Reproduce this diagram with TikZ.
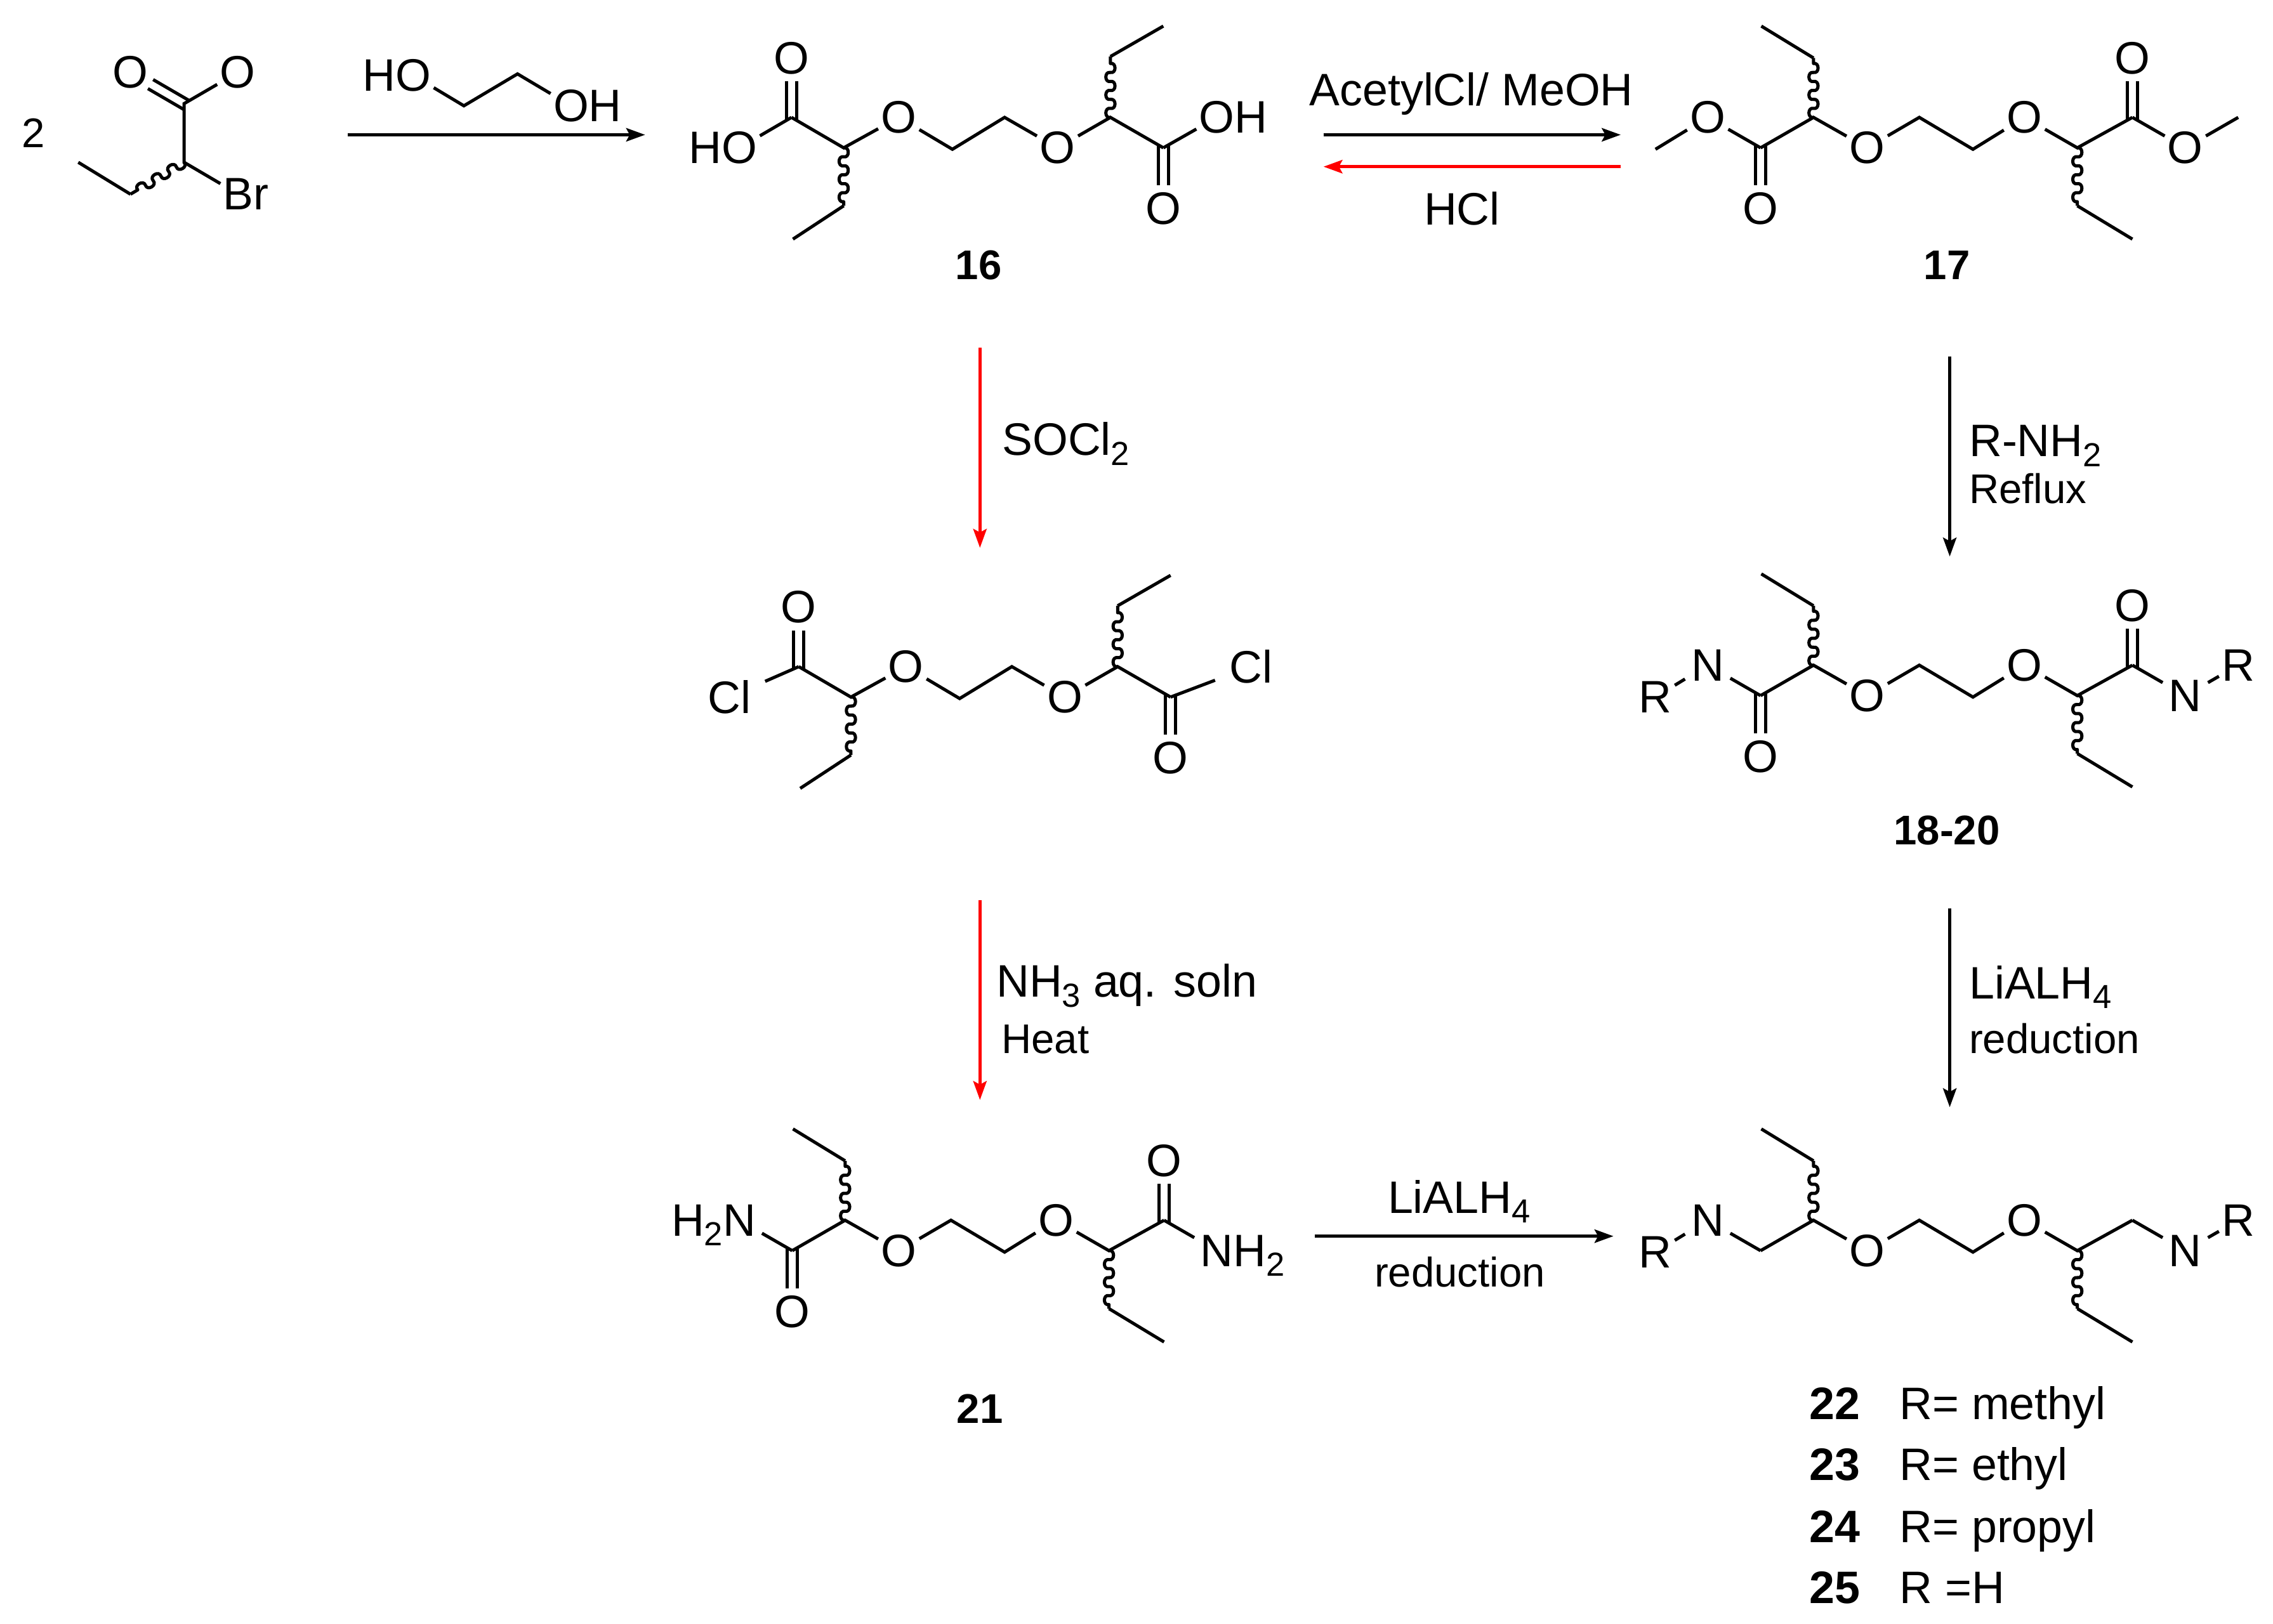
\documentclass[tikz,border=0pt]{standalone}
\usepackage{fontspec}
\setmainfont{Liberation Sans}
\usetikzlibrary{arrows.meta,calc,decorations}
\newcommand\sbb[1]{\smash{\raisebox{-0.22em}{\fontsize{11.5}{12}\selectfont #1}}}
\newcommand\bigf{\fontsize{15.7}{18}\selectfont}
\newcommand\smf{\fontsize{14.3}{17}\selectfont}
% rounded wave, each half a near half-circle
\pgfdeclaredecoration{wig}{up}{
  \state{up}[switch if less than=2.6pt to final,width=3.1pt,next state=down]{
    \pgfpathlineto{\pgfpointorigin}
    \pgfpathcurveto{\pgfqpoint{-0.5pt}{2.1pt}}{\pgfqpoint{3.6pt}{2.1pt}}{\pgfqpoint{3.1pt}{0pt}}
  }
  \state{down}[switch if less than=2.6pt to final,width=3.1pt,next state=up]{
    \pgfpathlineto{\pgfpointorigin}
    \pgfpathcurveto{\pgfqpoint{-0.5pt}{-2.1pt}}{\pgfqpoint{3.6pt}{-2.1pt}}{\pgfqpoint{3.1pt}{0pt}}
  }
  \state{final}{\pgfpathlineto{\pgfpointdecoratedpathlast}}
}
\tikzset{
  bond/.style={line width=1.1pt,line cap=butt,line join=miter},
  wavy/.style={line width=1.1pt,line join=round,decorate,decoration={wig}},
  atom/.style={inner xsep=1pt,inner ysep=0pt,outer sep=0pt,font=\bigf},
  natom/.style={inner xsep=2.15pt,inner ysep=0pt,outer sep=0pt,font=\bigf},
  clatom/.style={inner xsep=5pt,inner ysep=0pt,outer sep=0pt,font=\bigf},
  rx/.style={line width=1.1pt,-{Stealth[length=6.5pt,width=4.6pt,inset=1.2pt]}},
  rxred/.style={rx,color=red},
  lab/.style={inner sep=0pt,anchor=base,font=\bigf},
  labw/.style={inner sep=0pt,anchor=base west,font=\bigf},
  labs/.style={inner sep=0pt,anchor=base,font=\smf},
  labsw/.style={inner sep=0pt,anchor=base west,font=\smf},
  cpd/.style={inner sep=0pt,anchor=base,font=\smf\bfseries},
  cpdb/.style={inner sep=0pt,anchor=base west,font=\bigf\bfseries},
}
% double bond: from carbon #1 towards oxygen node #2
\newcommand\dbond[2]{%
  \draw[bond,shorten >=8pt,shorten <=-0.9pt] ($(#1.center)!1.8pt!90:(#2.center)$) -- ($(#2.center)!1.8pt!-90:(#1.center)$);
  \draw[bond,shorten >=8pt,shorten <=-0.9pt] ($(#1.center)!1.8pt!-90:(#2.center)$) -- ($(#2.center)!1.8pt!90:(#1.center)$);}
% core with first carbonyl up, as in 16
\newcommand\coreA[1]{%
  \coordinate (#1c1) at (546,81); \coordinate (#1h1) at (582,102);
  \node[atom] (#1O1) at (620,81) {O};
  \coordinate (#1e1) at (657,103); \coordinate (#1e2) at (693,81);
  \node[atom] (#1O2) at (729.5,102) {O};
  \coordinate (#1h2) at (766,81); \coordinate (#1c2) at (802.5,102);
  \coordinate (#1t1) at (582,142); \coordinate (#1m1) at (547,165);
  \coordinate (#1t2) at (766,39); \coordinate (#1m2) at (802.5,18);
  \node[atom] (#1Ot) at (546,40) {O};
  \node[atom] (#1Ob) at (802.5,144) {O};
  \draw[bond] (#1c1) -- (#1h1) -- (#1O1);
  \draw[bond] (#1O1) -- (#1e1) -- (#1e2) -- (#1O2);
  \draw[bond] (#1O2) -- (#1h2) -- (#1c2);
  \draw[wavy] (#1h1) -- (#1t1);
  \draw[wavy] (#1h2) -- (#1t2);
  \draw[bond] (#1t1) -- (#1m1);
  \draw[bond] (#1t2) -- (#1m2);
  \dbond{#1c1}{#1Ot}
  \dbond{#1c2}{#1Ob}}
% core with first carbonyl down, as in 17
\newcommand\coreB[1]{%
  \coordinate (#1c1) at (1214.5,102); \coordinate (#1h1) at (1251,81);
  \node[atom] (#1O1) at (1288,102) {O};
  \coordinate (#1e1) at (1324,81); \coordinate (#1e2) at (1361,103);
  \node[atom] (#1O2) at (1396.5,81) {O};
  \coordinate (#1h2) at (1433,102); \coordinate (#1c2) at (1471,81);
  \coordinate (#1t1) at (1251,40); \coordinate (#1m1) at (1215,18);
  \coordinate (#1t2) at (1433,142); \coordinate (#1m2) at (1471,165);
  \draw[bond] (#1c1) -- (#1h1) -- (#1O1);
  \draw[bond] (#1O1) -- (#1e1) -- (#1e2) -- (#1O2);
  \draw[bond] (#1O2) -- (#1h2) -- (#1c2);
  \draw[wavy] (#1h1) -- (#1t1);
  \draw[wavy] (#1h2) -- (#1t2);
  \draw[bond] (#1t1) -- (#1m1);
  \draw[bond] (#1t2) -- (#1m2);}
\newcommand\carbonylsB[1]{%
  \node[atom] (#1Ob) at (1214.5,144) {O};
  \node[atom] (#1Ot) at (1471,40) {O};
  \dbond{#1c1}{#1Ob}
  \dbond{#1c2}{#1Ot}}
\begin{document}
\begin{tikzpicture}[x=0.5pt,y=-0.5pt]
\useasboundingbox (0,0) rectangle (1568,1120.6);

% starting bromide
\node[inner sep=0pt,font=\smf] (two) at (23,92) {2};
\coordinate (bc) at (127,71.5); \coordinate (bh) at (127,112);
\coordinate (bm) at (90,134); \coordinate (be) at (54,112);
\node[atom] (bO1) at (90,50) {O};
\node[atom] (bO2) at (164,50) {O};
\node[atom] (bBr) at (164.5,134) {B\rlap{r}};
\draw[bond] (bO2) -- (bc) -- (bh) -- (bBr);
\dbond{bc}{bO1}
\draw[wavy] (bh) -- (bm);
\draw[bond] (bm) -- (be);

% ethylene glycol
\node[atom] (gO1) at (285,52) {\llap{H}O};
\node[atom] (gO2) at (394,73) {O\rlap{H}};
\coordinate (ge1) at (320,73); \coordinate (ge2) at (357,51);
\draw[bond] (gO1) -- (ge1) -- (ge2) -- (gO2);

% 16
\begin{scope}
\coreA{p-}
\node[atom] (p-L) at (510,102) {\llap{H}O};
\node[atom] (p-R) at (839.5,81) {O\rlap{H}};
\draw[bond] (p-c1) -- (p-L);
\draw[bond] (p-c2) -- (p-R);
\end{scope}
\node[cpd] (n16) at (675,193) {16};

% 17
\begin{scope}
\coreB{q-}
\carbonylsB{q-}
\node[atom] (q-L) at (1178,81) {O};
\node[atom] (q-R) at (1507.5,102) {O};
\coordinate (q-mL) at (1142,103); \coordinate (q-mR) at (1544,81);
\draw[bond] (q-mL) -- (q-L) -- (q-c1);
\draw[bond] (q-c2) -- (q-R) -- (q-mR);
\end{scope}
\node[cpd] (n17) at (1343,193) {17};

% acid chloride
\begin{scope}[shift={(5,379)}]
\coreA{r-}
\node[clatom] (r-L) at (498,102) {Cl};
\node[clatom] (r-R) at (858,81) {Cl};
\draw[bond] (r-c1) -- (r-L);
\draw[bond] (r-c2) -- (r-R);
\end{scope}

% 18-20
\begin{scope}[shift={(0,378)}]
\coreB{s-}
\carbonylsB{s-}
\node[natom] (s-L) at (1178,81) {N};
\node[natom] (s-R) at (1507.5,102) {N};
\node[atom] (s-RL) at (1142,103) {R};
\node[atom] (s-RR) at (1544,81) {R};
\draw[bond] (s-RL) -- (s-L);
\draw[bond] (s-L) -- (s-c1);
\draw[bond] (s-c2) -- (s-R);
\draw[bond] (s-R) -- (s-RR);
\end{scope}
\node[cpd] (n18) at (1343,583) {18-20};

% 21
\begin{scope}[shift={(-668,761)}]
\coreB{t-}
\carbonylsB{t-}
\node[natom] (t-L) at (1178,81) {\llap{H\sbb{2}}N};
\node[natom] (t-R) at (1507.5,102) {N\rlap{H\sbb{2}}};
\draw[bond] (t-L) -- (t-c1);
\draw[bond] (t-c2) -- (t-R);
\end{scope}
\node[cpd] (n21) at (676,982) {21};

% 22-25
\begin{scope}[shift={(0,761)}]
\coreB{u-}
\node[natom] (u-L) at (1178,81) {N};
\node[natom] (u-R) at (1507.5,102) {N};
\node[atom] (u-RL) at (1142,103) {R};
\node[atom] (u-RR) at (1544,81) {R};
\draw[bond] (u-RL) -- (u-L);
\draw[bond] (u-L) -- (u-c1);
\draw[bond] (u-c2) -- (u-R);
\draw[bond] (u-R) -- (u-RR);
\end{scope}
\node[cpdb] (n22) at (1248,979.3) {22};
\node[cpdb] (n23) at (1248,1021.3) {23};
\node[cpdb] (n24) at (1248,1064.3) {24};
\node[cpdb] (n25) at (1248,1106.3) {25};
\node[labw] (r22) at (1310,979.3) {R= methyl};
\node[labw] (r23) at (1310,1021.3) {R= ethyl};
\node[labw] (r24) at (1310,1064.3) {R= propyl};
\node[labw] (r25) at (1310,1106.3) {R =H};

% reaction arrows
\coordinate (a1s) at (240,93);   \coordinate (a1e) at (445,93);
\coordinate (a2s) at (913,93);   \coordinate (a2e) at (1118,93);
\coordinate (a3s) at (1118,115); \coordinate (a3e) at (913,115);
\coordinate (a4s) at (676,240);  \coordinate (a4e) at (676,378);
\coordinate (a5s) at (676,621);  \coordinate (a5e) at (676,759);
\coordinate (a6s) at (1345,246); \coordinate (a6e) at (1345,384);
\coordinate (a7s) at (1345,627); \coordinate (a7e) at (1345,764);
\coordinate (a8s) at (907,853);  \coordinate (a8e) at (1113,853);
\draw[rx] (a1s) -- (a1e);
\draw[rx] (a2s) -- (a2e);
\draw[rxred] (a3s) -- (a3e);
\draw[rxred] (a4s) -- (a4e);
\draw[rxred] (a5s) -- (a5e);
\draw[rx] (a6s) -- (a6e);
\draw[rx] (a7s) -- (a7e);
\draw[rx] (a8s) -- (a8e);

% reagent labels
\node[lab] (t1) at (1015,73) {AcetylCl/ MeOH};
\node[lab] (t2) at (1008.5,155) {HCl};
\node[labw] (t3) at (691,314) {SOCl\sbb{2}};
\node[labw] (t4) at (1358,315) {R-NH\sbb{2}};
\node[labsw] (t5) at (1358,347.5) {Reflux};
\node[labw] (t6) at (687,688) {NH\sbb{3} aq. soln};
\node[labsw] (t7) at (690.5,727) {Heat};
\node[labw] (t8) at (1358,689) {LiALH\sbb{4}};
\node[labsw] (t9) at (1358,727) {reduction};
\node[lab] (t10) at (1006.5,837) {LiALH\sbb{4}};
\node[labs] (t11) at (1007,888) {reduction};
\end{tikzpicture}
\end{document}
